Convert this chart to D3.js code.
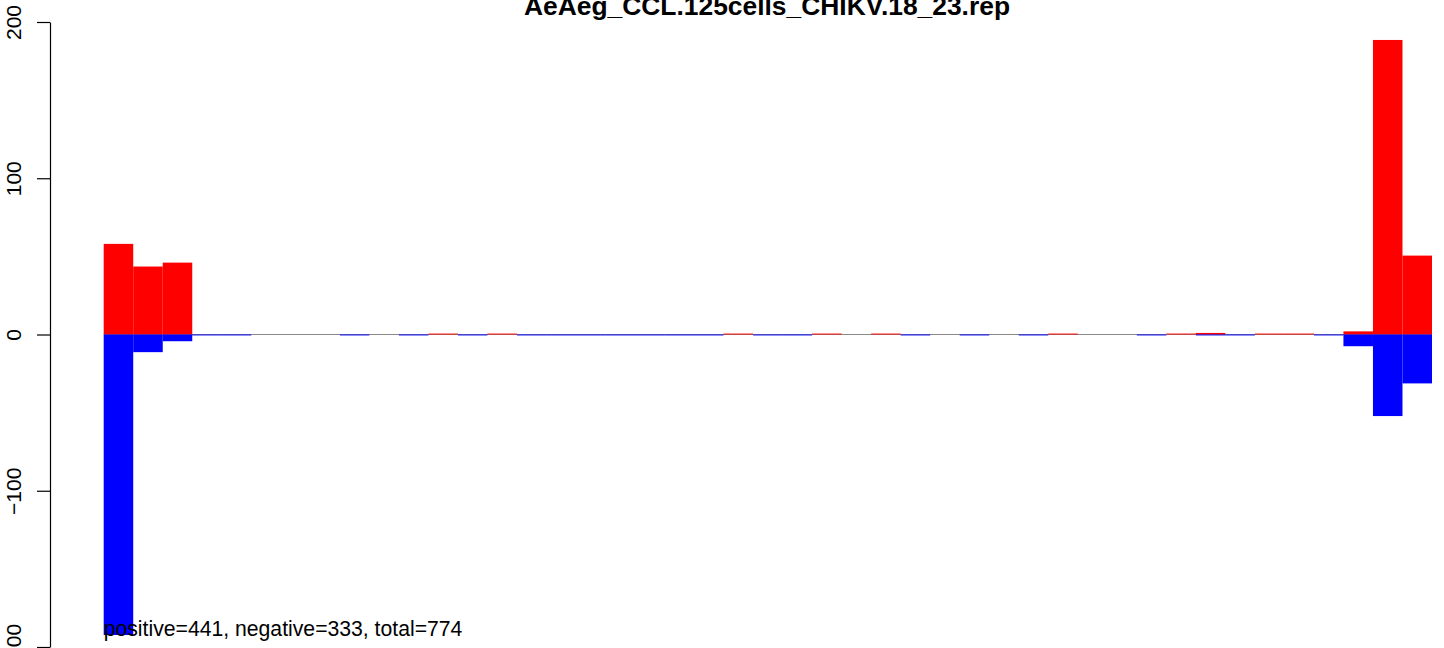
<!DOCTYPE html>
<html>
<head>
<meta charset="utf-8">
<script src="https://cdn.jsdelivr.net/npm/d3@7"></script>
<style>
  html, body { margin: 0; padding: 0; background: #fff; }
  svg { display: block; font-family: "Liberation Sans", Arial, Helvetica, sans-serif; }
</style>
</head>
<body>
<svg id="chart" width="1444" height="648"></svg>
<script>
// ---- data ----
const title = "AeAeg_CCL.125cells_CHIKV.18_23.rep";
const summaryText = "positive=441, negative=333, total=774";
const bins = d3.range(45);
// positive (red) bar heights per bin
const positive = [
  58, 43.5, 46, 0, 0, 0, 0, 0, 0, 0,
  0, 0.6, 0, 0.6, 0, 0, 0, 0, 0, 0,
  0, 0.6, 0, 0, 0.6, 0, 0.6, 0, 0, 0,
  0, 0, 0.6, 0, 0, 0, 0.6, 1, 0, 0.6,
  0.6, 0, 2, 188.5, 50.5
];
// negative (blue) bar heights per bin (drawn below zero)
const negative = [
  192.3, 11.3, 4.3, 0.6, 0.6, 0, 0, 0, 0.6, 0,
  0.6, 0, 0.6, 0, 0.6, 0.6, 0.6, 0.6, 0.6, 0.6,
  0.6, 0, 0.6, 0.6, 0, 0, 0, 0.6, 0, 0.6,
  0, 0.6, 0, 0, 0, 0.6, 0, 0.6, 0.6, 0,
  0, 0.6, 7.5, 52.2, 31.3
];
const yTicks = [-200, -100, 0, 100, 200];

// ---- layout ----
const svg = d3.select("#chart");
const plotLeft = 103.7, plotRight = 1432;
const axisX = 50;

const x = d3.scaleBand().domain(bins).range([plotLeft, plotRight]).padding(0);
const y = d3.scaleLinear().domain([-200, 200]).range([647, 22]);

// zero line
svg.append("line")
  .attr("x1", plotLeft).attr("x2", plotRight)
  .attr("y1", y(0)).attr("y2", y(0))
  .attr("stroke", "#8a8a8a").attr("stroke-width", 1);

// positive bars
svg.append("g").selectAll("rect")
  .data(bins.filter(i => positive[i] > 0))
  .join("rect")
  .attr("x", i => x(i))
  .attr("width", x.bandwidth())
  .attr("y", i => y(positive[i]))
  .attr("height", i => y(0) - y(positive[i]))
  .attr("fill", "#ff0000");

// negative bars
svg.append("g").selectAll("rect")
  .data(bins.filter(i => negative[i] > 0))
  .join("rect")
  .attr("x", i => x(i))
  .attr("width", x.bandwidth())
  .attr("y", y(0))
  .attr("height", i => y(-negative[i]) - y(0))
  .attr("fill", "#0000ff");

// y axis
const yAxis = d3.axisLeft(y)
  .tickValues(yTicks)
  .tickSize(13)
  .tickSizeOuter(0)
  .tickPadding(0);
const gy = svg.append("g")
  .attr("transform", `translate(${axisX},0)`)
  .call(yAxis);
gy.select(".domain").attr("stroke", "#000").attr("stroke-width", 1.2);
gy.selectAll(".tick line").attr("stroke", "#000").attr("stroke-width", 1.2);
gy.selectAll(".tick text")
  .attr("x", null).attr("dy", null)
  .attr("transform", `translate(-29,0) rotate(-90)`)
  .attr("text-anchor", "middle")
  .attr("fill", "#000")
  .attr("font-family", "'Liberation Sans', Arial, sans-serif")
  .attr("font-size", 21);

// title
svg.append("text")
  .attr("x", 767).attr("y", 15)
  .attr("text-anchor", "middle")
  .attr("font-weight", "bold")
  .attr("font-size", 26.4)
  .text(title);

// summary text
svg.append("text")
  .attr("x", plotLeft).attr("y", 636)
  .attr("font-size", 21.2)
  .text(summaryText);
</script>
</body>
</html>
